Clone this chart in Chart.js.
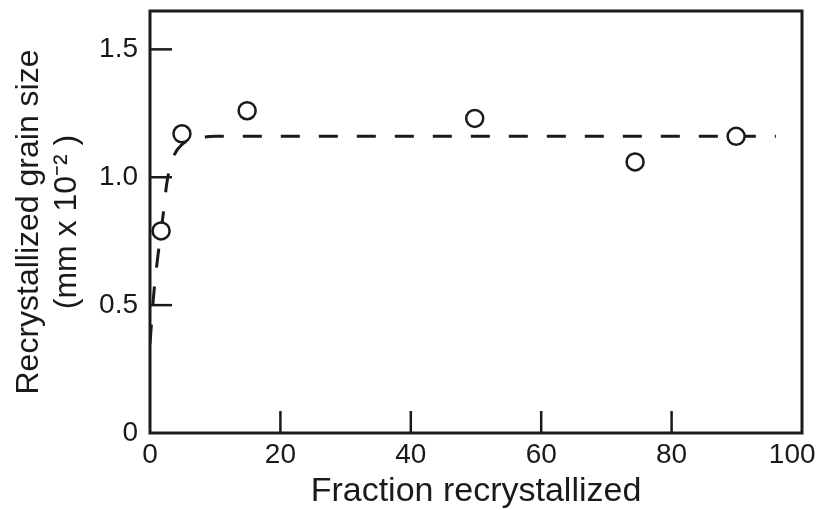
<!DOCTYPE html>
<html>
<head>
<meta charset="utf-8">
<script src="https://cdn.jsdelivr.net/npm/chart.js@4/dist/chart.umd.min.js"></script>
<style>
  html, body { margin: 0; padding: 0; background: #fff; }
  #wrap { width: 821px; height: 510px; }
</style>
</head>
<body>
<div id="wrap"><canvas id="chart" width="821" height="510"></canvas></div>
<script>
// measured points (fraction recrystallized %, grain size mm x 10^-2)
const fraction = [1.7, 4.9, 14.9, 49.8, 74.4, 89.9];
const grainSize = [0.79, 1.17, 1.26, 1.23, 1.06, 1.16];

// dashed trend curve
const curveX = [0, 0.6, 1.2, 2.0, 2.6, 3.6, 5, 7, 10, 96];
const curveY = [0.35, 0.55, 0.69, 0.85, 0.98, 1.08, 1.13, 1.15, 1.16, 1.16];

const xTicks = [0, 20, 40, 60, 80, 100];
const yTicks = [0, 0.5, 1.0, 1.5];

const ink = '#1a1a1a';
const fontFam = '"Liberation Sans", Arial, Helvetica, sans-serif';

// box around plot + inward tick marks
const frame = {
    id: 'frame',
    afterDatasetsDraw(chart) {
        const { ctx, chartArea: a, scales: { x, y } } = chart;
        ctx.save();
        ctx.strokeStyle = ink;
        ctx.lineWidth = 2.5;
        xTicks.slice(1, -1).forEach(v => {
            const px = x.getPixelForValue(v);
            ctx.beginPath(); ctx.moveTo(px, a.bottom); ctx.lineTo(px, a.bottom - 22); ctx.stroke();
        });
        yTicks.slice(1).forEach(v => {
            const py = y.getPixelForValue(v);
            ctx.beginPath(); ctx.moveTo(a.left, py); ctx.lineTo(a.left + 22, py); ctx.stroke();
        });
        ctx.lineWidth = 3;
        ctx.strokeRect(a.left, a.top, a.right - a.left, a.bottom - a.top);
        ctx.restore();
    }
};

const ctx = document.getElementById('chart').getContext('2d');
new Chart(ctx, {
    type: 'scatter',
    data: {
        datasets: [
            {
                data: fraction.map((f, i) => ({ x: f, y: grainSize[i] })),
                pointRadius: 8.5,
                pointBorderWidth: 2.5,
                borderColor: ink,
                backgroundColor: '#fff',
                order: 0
            },
            {
                data: curveX.map((f, i) => ({ x: f, y: curveY[i] })),
                showLine: true,
                pointRadius: 0,
                borderColor: ink,
                borderWidth: 3,
                borderDash: [19, 19],
                cubicInterpolationMode: 'monotone',
                fill: false,
                order: 1
            }
        ]
    },
    options: {
        responsive: false,
        animation: false,
        layout: { padding: { top: 9, right: 0, left: 0, bottom: 0 } },
        plugins: { legend: { display: false }, tooltip: { enabled: false } },
        scales: {
            x: {
                type: 'linear',
                min: 0, max: 100,
                grid: { display: false, drawTicks: false },
                border: { display: false },
                afterBuildTicks: s => { s.ticks = xTicks.map(v => ({ value: v })); },
                afterFit: s => { s.height = 77; s.paddingLeft = 0; s.paddingRight = 19; },
                ticks: { color: ink, font: { family: fontFam, size: 28 }, padding: 5, maxRotation: 0,
                         // trailing space nudges the last label inside the canvas
                         callback: v => v === 100 ? '100\u2002\u2009' : String(v) },
                title: { display: true, text: 'Fraction recrystallized', color: ink,
                         font: { family: fontFam, size: 34, lineHeight: 1.0 }, padding: { top: 0, bottom: 1 } }
            },
            y: {
                type: 'linear',
                min: 0, max: 1.65,
                grid: { display: false, drawTicks: false },
                border: { display: false },
                afterBuildTicks: s => { s.ticks = yTicks.map(v => ({ value: v })); },
                afterFit: s => { s.width = 150; s.paddingTop = 0; s.paddingBottom = 0; },
                ticks: { color: ink, font: { family: fontFam, size: 28 }, padding: 12,
                         callback: v => v === 0 ? '0' : v.toFixed(1) },
                title: { display: true, text: ['Recrystallized grain size', '(mm x 10\u207B\u00B2 )'], color: ink,
                         font: { family: fontFam, size: 32, lineHeight: 1.16 }, padding: { top: 11, bottom: 0 } }
            }
        }
    },
    plugins: [frame]
});
</script>
</body>
</html>
